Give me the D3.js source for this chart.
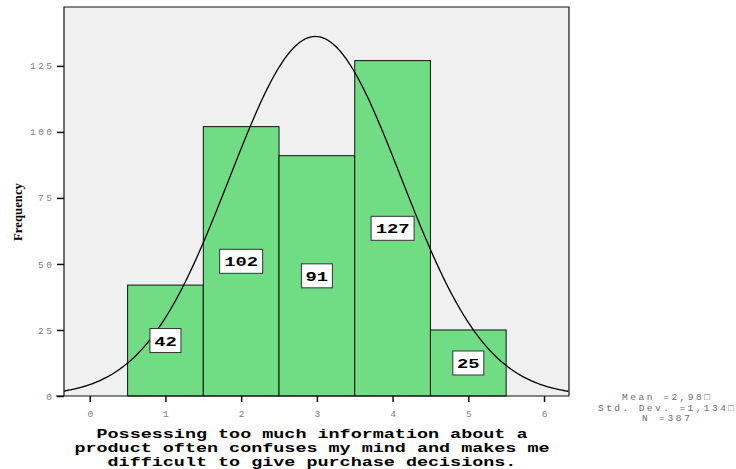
<!DOCTYPE html>
<html><head><meta charset="utf-8">
<script src="https://cdn.jsdelivr.net/npm/d3@7"></script>
<style>body{margin:0;background:#fff}svg{display:block}</style>
</head><body><svg id="c" width="736" height="469"></svg>
<script>
const categories = [1, 2, 3, 4, 5];
const frequencies = [42, 102, 91, 127, 25];
const xTicks = [0, 1, 2, 3, 4, 5, 6];
const yTicks = [0, 25, 50, 75, 100, 125];
const stats = {mean: 2.98, sd: 1.134, n: 387};
const statLabels = ["Mean =2,98\u25A1", "Std. Dev. =1,134\u25A1", "N =387"];
const titleLines = ["Possessing too much information about a", "product often confuses my mind and makes me", "difficult to give purchase decisions."];

const svg = d3.select("#c");
const L = 64, R = 569, T = 7, B = 396;
const x = d3.scaleLinear().domain([-0.34, 6.33]).range([L, R]);
const y = d3.scaleLinear().domain([0, 147.3]).range([B, T]);

svg.append("rect").attr("x", L).attr("y", T).attr("width", R - L).attr("height", B - T).attr("fill", "#f0f0f0");
svg.append("clipPath").attr("id", "clip").append("rect").attr("x", L).attr("y", T).attr("width", R - L).attr("height", B - T);

const g = svg.append("g");
g.selectAll("rect.bar").data(categories).enter().append("rect").attr("class", "bar")
  .attr("x", d => x(d - 0.5)).attr("width", d => x(d + 0.5) - x(d - 0.5))
  .attr("y", (d, i) => y(frequencies[i])).attr("height", (d, i) => B - y(frequencies[i]))
  .attr("fill", "#70dc84").attr("stroke", "#111").attr("stroke-width", 1);

// normal curve
const pts = d3.range(-0.34, 6.34, 0.02).map(v => [v, stats.n / (stats.sd * Math.sqrt(2 * Math.PI)) * Math.exp(-0.5 * Math.pow((v - stats.mean) / stats.sd, 2))]);
svg.append("path").attr("clip-path", "url(#clip)").datum(pts)
  .attr("d", d3.line().x(d => x(d[0])).y(d => y(d[1])).curve(d3.curveBasis))
  .attr("fill", "none").attr("stroke", "#000").attr("stroke-width", 1.3);

// value labels
const lab = svg.append("g");
categories.forEach((c, i) => {
  const cx = x(c), cy = y(frequencies[i] / 2);
  const txt = String(frequencies[i]);
  const w = txt.length === 3 ? 43 : 31;
  lab.append("rect").attr("x", cx - w / 2).attr("y", cy - 12).attr("width", w).attr("height", 24)
    .attr("fill", "#fff").attr("stroke", "#333").attr("stroke-width", 1);
  lab.append("text").attr("x", cx).attr("y", cy + 5).attr("text-anchor", "middle")
    .attr("font-family", "Liberation Mono").attr("font-weight", "bold").attr("font-size", 13)
    .attr("textLength", txt.length * 11.3).attr("lengthAdjust", "spacingAndGlyphs").text(txt);
});

// frame
svg.append("path").attr("d", `M${L},${B}V${T}H${R}V${B}`).attr("fill", "none").attr("stroke", "#111").attr("stroke-width", 1.2);
svg.append("line").attr("x1", L - 8).attr("x2", R).attr("y1", B).attr("y2", B).attr("stroke", "#111").attr("stroke-width", 1.2);

// axes
const yAxis = d3.axisLeft(y).tickValues(yTicks).tickSize(7).tickPadding(5);
const ya = svg.append("g").attr("transform", `translate(${L},0)`).call(yAxis);
const xAxis = d3.axisBottom(x).tickValues(xTicks).tickFormat(d3.format("d")).tickSize(7).tickPadding(7);
const xa = svg.append("g").attr("transform", `translate(0,${B})`).call(xAxis);
[ya, xa].forEach(a => {
  a.select(".domain").remove();
  a.selectAll(".tick line").attr("stroke", "#111").attr("stroke-width", 1.5);
  a.selectAll(".tick text").attr("font-family", "Liberation Mono").attr("font-size", 9.5)
    .attr("fill", "#808080")
    .attr("textLength", function(d) { return String(d).length * 8 - 2; })
    .attr("lengthAdjust", "spacing");
});
xa.selectAll(".tick line").attr("y2", 6);

svg.append("text").attr("transform", "translate(22,212) rotate(-90)").attr("text-anchor", "middle")
  .attr("font-family", "Liberation Serif").attr("font-weight", "bold").attr("font-size", 12)
  .attr("textLength", 58).attr("lengthAdjust", "spacingAndGlyphs").text("Frequency");

// title
titleLines.forEach((t, i) => {
  svg.append("text").attr("x", 312).attr("y", 438 + i * 14).attr("text-anchor", "middle")
    .attr("font-family", "Liberation Mono").attr("font-weight", "bold").attr("font-size", 12)
    .attr("textLength", t.length * 11.05).attr("lengthAdjust", "spacingAndGlyphs").text(t);
});

// stats
statLabels.forEach((t, i) => {
  svg.append("text").attr("x", 666).attr("y", 400 + i * 10.5).attr("text-anchor", "middle")
    .attr("font-family", "Liberation Mono").attr("font-size", 9.5).attr("fill", "#6a6a6a")
    .attr("textLength", t.length * 8).attr("lengthAdjust", "spacing").text(t);
});
</script></body></html>
